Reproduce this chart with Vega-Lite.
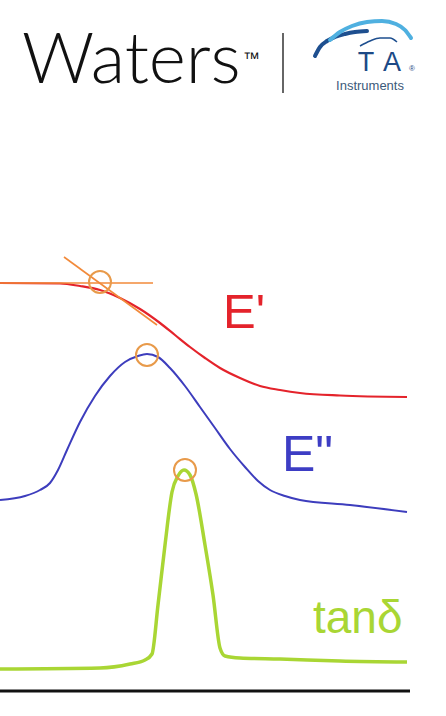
{
  "$schema": "https://vega.github.io/schema/vega-lite/v6.json",
  "width": 446,
  "height": 716,
  "autosize": {"type": "none"},
  "padding": 0,
  "background": "white",
  "config": {"view": {"stroke": null}},
  "encoding": {
    "x": {"field": "x", "type": "quantitative", "scale": {"domain": [0, 446], "nice": false, "zero": false}, "axis": null},
    "y": {"field": "y", "type": "quantitative", "scale": {"domain": [0, 716], "nice": false, "zero": false}, "axis": null}
  },
  "layer": [
    {
      "data": {"values": [
        {"x": 0, "y": 433}, {"x": 60, "y": 432.5}, {"x": 80, "y": 430}, {"x": 100, "y": 426},
        {"x": 120, "y": 418}, {"x": 140, "y": 407}, {"x": 160, "y": 393}, {"x": 175, "y": 381},
        {"x": 190, "y": 369}, {"x": 205, "y": 358}, {"x": 220, "y": 348}, {"x": 240, "y": 338},
        {"x": 260, "y": 330}, {"x": 280, "y": 326}, {"x": 300, "y": 323}, {"x": 340, "y": 320.5},
        {"x": 407, "y": 319}
      ]},
      "mark": {"type": "line", "color": "#e4232b", "strokeWidth": 2.2, "interpolate": "monotone"}
    },
    {
      "data": {"values": [
        {"x": 0, "y": 216}, {"x": 25, "y": 220}, {"x": 40, "y": 226}, {"x": 50, "y": 233},
        {"x": 58, "y": 246}, {"x": 67, "y": 266}, {"x": 80, "y": 294}, {"x": 95, "y": 320},
        {"x": 110, "y": 340}, {"x": 125, "y": 354}, {"x": 138, "y": 360}, {"x": 147, "y": 362},
        {"x": 158, "y": 359}, {"x": 170, "y": 348}, {"x": 185, "y": 330}, {"x": 200, "y": 309},
        {"x": 215, "y": 288}, {"x": 230, "y": 267}, {"x": 245, "y": 249}, {"x": 258, "y": 235},
        {"x": 270, "y": 226}, {"x": 285, "y": 220}, {"x": 300, "y": 216}, {"x": 350, "y": 211},
        {"x": 407, "y": 204}
      ]},
      "mark": {"type": "line", "color": "#3d3dbd", "strokeWidth": 2, "interpolate": "monotone"}
    },
    {
      "data": {"values": [
        {"x": 0, "y": 47}, {"x": 100, "y": 48}, {"x": 130, "y": 52}, {"x": 145, "y": 56},
        {"x": 152, "y": 62}, {"x": 158, "y": 111}, {"x": 165, "y": 171}, {"x": 172, "y": 224},
        {"x": 178, "y": 240}, {"x": 184, "y": 246}, {"x": 190, "y": 241}, {"x": 196, "y": 222},
        {"x": 205, "y": 171}, {"x": 213, "y": 121}, {"x": 220, "y": 68}, {"x": 225, "y": 60},
        {"x": 240, "y": 58}, {"x": 280, "y": 57}, {"x": 340, "y": 55}, {"x": 407, "y": 54}
      ]},
      "mark": {"type": "line", "color": "#a9d634", "strokeWidth": 3.5, "interpolate": "monotone"}
    },
    {
      "data": {"values": [
        {"s": "onset", "x": 0, "y": 433}, {"s": "onset", "x": 153, "y": 433},
        {"s": "slope", "x": 64, "y": 459}, {"s": "slope", "x": 157, "y": 391}
      ]},
      "mark": {"type": "line", "color": "#f28a3a", "strokeWidth": 1.6},
      "encoding": {"detail": {"field": "s", "type": "nominal"}}
    },
    {
      "data": {"values": [
        {"p": "onset", "x": 100, "y": 434},
        {"p": "E'' peak", "x": 147, "y": 361},
        {"p": "tan delta peak", "x": 185, "y": 246}
      ]},
      "mark": {"type": "point", "shape": "circle", "filled": false, "stroke": "#e89a4a", "strokeWidth": 2, "size": 484, "opacity": 1}
    },
    {
      "data": {"values": [{"x": 0, "y": 25}, {"x": 410, "y": 25}]},
      "mark": {"type": "line", "color": "#111111", "strokeWidth": 2.8}
    },
    {
      "data": {"values": [{"x": 283, "y": 683}, {"x": 283, "y": 623}]},
      "mark": {"type": "line", "color": "#333333", "strokeWidth": 1.5},
      "encoding": {"order": {"field": "y", "type": "quantitative"}}
    },
    {
      "data": {"values": [
        {"x": 315, "y": 660}, {"x": 320, "y": 669}, {"x": 327, "y": 675}, {"x": 335, "y": 679},
        {"x": 345, "y": 682}, {"x": 355, "y": 684}, {"x": 367, "y": 685}
      ]},
      "mark": {"type": "line", "color": "#1e4f8f", "strokeWidth": 4, "interpolate": "monotone", "strokeCap": "round"}
    },
    {
      "data": {"values": [
        {"x": 330, "y": 676}, {"x": 340, "y": 684}, {"x": 352, "y": 690}, {"x": 367, "y": 694},
        {"x": 382, "y": 695}, {"x": 396, "y": 692}, {"x": 405, "y": 686}, {"x": 411, "y": 678}
      ]},
      "mark": {"type": "line", "color": "#4fb0e0", "strokeWidth": 4, "interpolate": "monotone", "strokeCap": "round"}
    },
    {
      "data": {"values": [
        {"x": 360, "y": 670}, {"x": 370, "y": 675}, {"x": 380, "y": 678}, {"x": 390, "y": 678}, {"x": 397, "y": 674}
      ]},
      "mark": {"type": "line", "color": "#1e4f8f", "strokeWidth": 1.5, "interpolate": "monotone"}
    },
    {
      "data": {"values": [{"t": "E'", "x": 223, "y": 388}]},
      "mark": {"type": "text", "align": "left", "baseline": "alphabetic", "font": "Liberation Sans", "fontSize": 49, "color": "#e4232b"},
      "encoding": {"text": {"field": "t"}}
    },
    {
      "data": {"values": [{"t": "E\"", "x": 282, "y": 245}]},
      "mark": {"type": "text", "align": "left", "baseline": "alphabetic", "font": "Liberation Sans", "fontSize": 50, "color": "#3d3dc4"},
      "encoding": {"text": {"field": "t"}}
    },
    {
      "data": {"values": [{"t": "tanδ", "x": 313, "y": 83}]},
      "mark": {"type": "text", "align": "left", "baseline": "alphabetic", "font": "Liberation Sans", "fontSize": 46, "color": "#a9d634"},
      "encoding": {"text": {"field": "t"}}
    },
    {
      "data": {"values": [{"t": "Waters", "x": 22, "y": 633}]},
      "mark": {"type": "text", "align": "left", "baseline": "alphabetic", "font": "Lato", "fontWeight": 300, "fontSize": 71, "color": "#111111"},
      "encoding": {"text": {"field": "t"}}
    },
    {
      "data": {"values": [{"t": "™", "x": 243, "y": 652}]},
      "mark": {"type": "text", "align": "left", "baseline": "alphabetic", "font": "Liberation Sans", "fontSize": 17, "color": "#111111"},
      "encoding": {"text": {"field": "t"}}
    },
    {
      "data": {"values": [{"t": "T", "x": 366, "y": 645}, {"t": "A", "x": 392, "y": 645}]},
      "mark": {"type": "text", "align": "center", "baseline": "alphabetic", "font": "Liberation Sans", "fontSize": 27, "color": "#1d4a86"},
      "encoding": {"text": {"field": "t"}}
    },
    {
      "data": {"values": [{"t": "®", "x": 412, "y": 645}]},
      "mark": {"type": "text", "align": "center", "baseline": "alphabetic", "font": "Liberation Sans", "fontSize": 8, "color": "#1d4a86"},
      "encoding": {"text": {"field": "t"}}
    },
    {
      "data": {"values": [{"t": "Instruments", "x": 370, "y": 626}]},
      "mark": {"type": "text", "align": "center", "baseline": "alphabetic", "font": "Liberation Sans", "fontSize": 13, "color": "#3c5a7a"},
      "encoding": {"text": {"field": "t"}}
    }
  ]
}
